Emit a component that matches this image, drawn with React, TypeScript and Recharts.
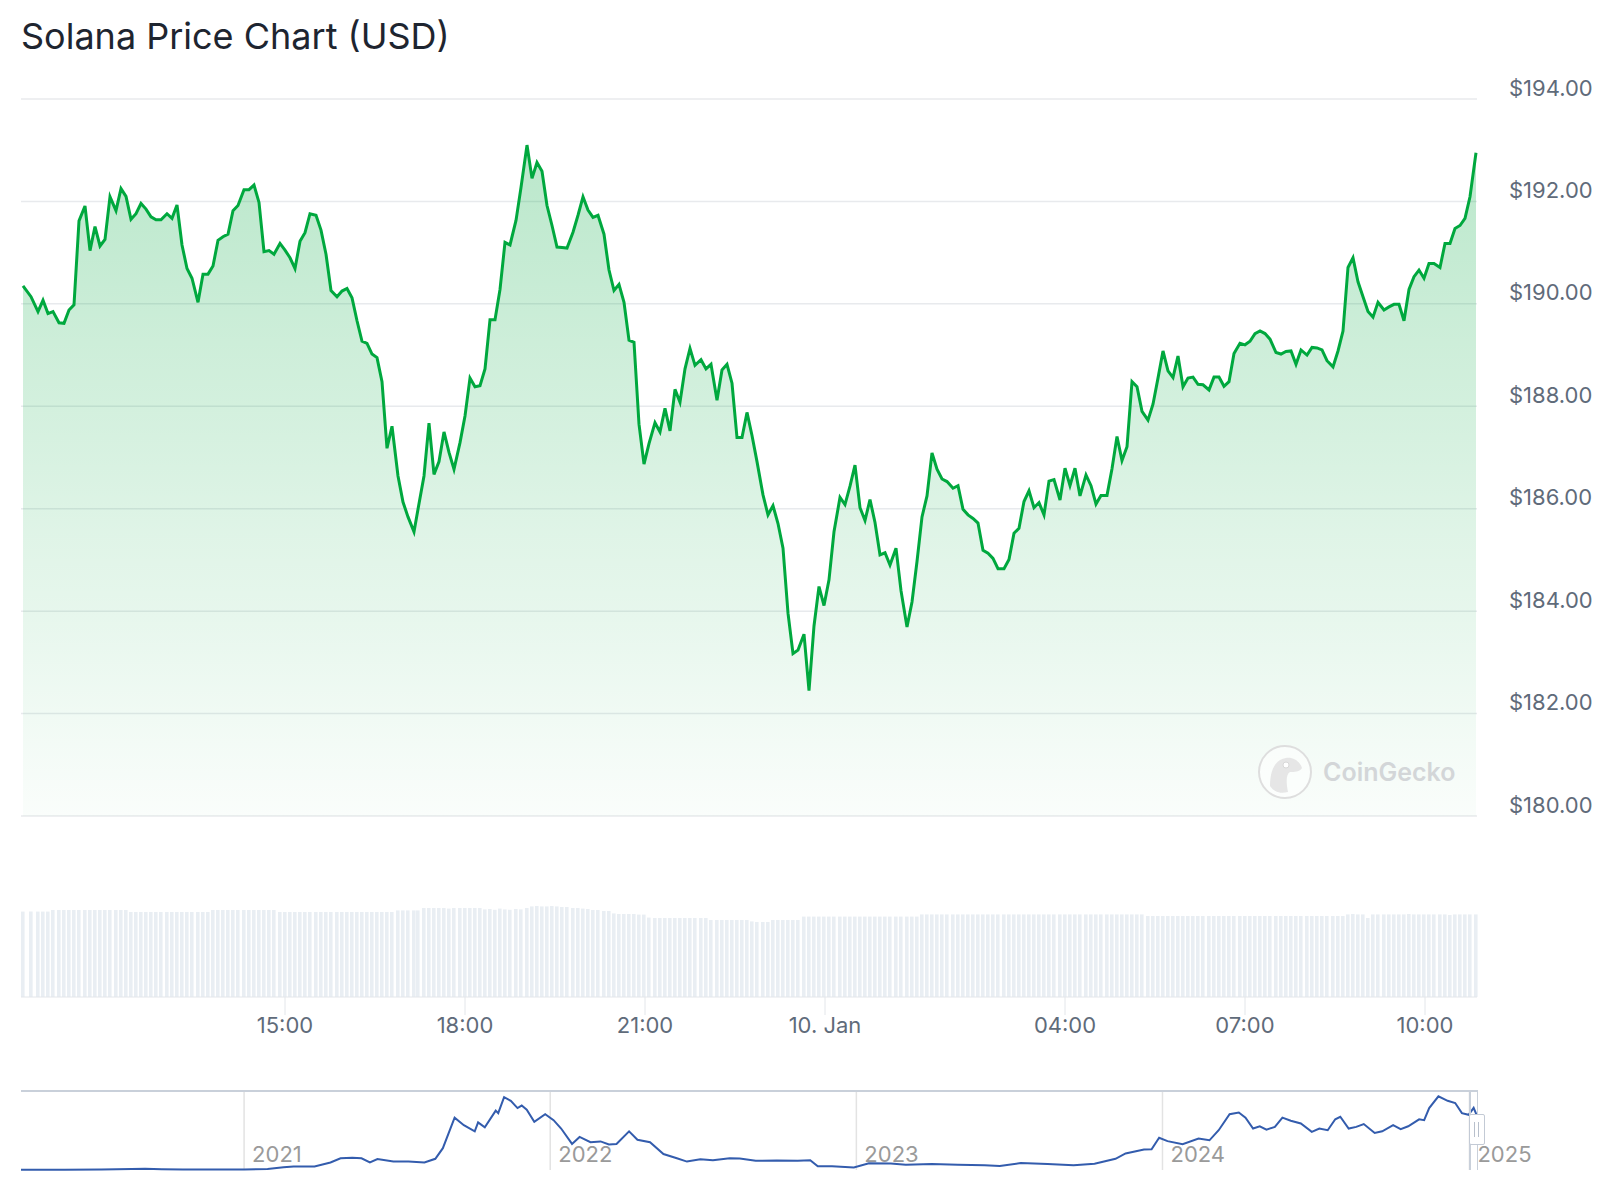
import React from "react";
import {
  AreaChart,
  Area,
  BarChart,
  Bar,
  LineChart,
  Line,
  XAxis,
  YAxis,
  CartesianGrid,
  ReferenceLine,
} from "recharts";

// 24h view: minutes after 00:00 on 9 Jan
const priceTimes = [
  638, 646, 653, 658, 663, 668, 674, 679, 684, 689,
  694, 700, 705, 710, 715, 720, 725, 731, 736, 741,
  746, 751, 756, 761, 766, 771, 776, 782, 787, 792,
  797, 802, 807, 813, 818, 823, 828, 833, 838, 843,
  848, 853, 859, 864, 869, 874, 879, 884, 889, 895,
  900, 905, 910, 915, 920, 925,
  931, 936, 941, 946, 952, 957, 962, 967, 972, 977,
  982, 987, 992, 997, 1002, 1007, 1013, 1018, 1023, 1029,
  1033, 1039, 1044, 1049, 1054, 1059, 1064, 1069, 1075, 1080,
  1085, 1090, 1095, 1100, 1105, 1110, 1115, 1120, 1125, 1131,
  1136, 1142, 1147, 1152, 1157, 1162, 1167, 1172, 1177, 1182,
  1188, 1193, 1198, 1203, 1208, 1213,
  1219, 1224, 1229, 1234, 1239, 1244, 1249, 1254, 1259, 1264,
  1270, 1275, 1280, 1285, 1290, 1295, 1300, 1305, 1310, 1316,
  1321, 1326, 1332, 1337, 1342, 1347, 1352, 1357, 1362, 1367,
  1372, 1378, 1383, 1388, 1393, 1398, 1403, 1408, 1413, 1419,
  1424, 1429, 1434, 1439, 1444, 1449, 1455, 1460, 1465, 1470,
  1475, 1480, 1485, 1490, 1495, 1500, 1505,
  1511, 1516, 1522, 1527, 1532, 1537, 1542, 1547, 1552, 1557,
  1562, 1568, 1573, 1578, 1583, 1588, 1593, 1598, 1603, 1608,
  1613, 1619, 1624, 1629, 1634, 1639, 1644, 1649, 1654, 1659,
  1664, 1669, 1675, 1680, 1685, 1690, 1695, 1701, 1706, 1711,
  1716, 1722, 1727, 1732, 1737, 1742, 1747, 1752, 1757, 1763,
  1768, 1773, 1778, 1783, 1788, 1793,
  1798, 1803, 1808, 1813, 1818, 1824, 1829, 1834, 1839, 1844,
  1849, 1855, 1860, 1865, 1870, 1875, 1880, 1885, 1891, 1896,
  1901, 1906, 1911, 1916, 1922, 1927, 1932, 1937, 1942, 1948,
  1953, 1958, 1963, 1968, 1973, 1978, 1983, 1988, 1993, 1999,
  2004, 2009, 2014, 2019, 2024, 2029, 2034, 2039, 2044, 2049,
  2055, 2060, 2065, 2070, 2075, 2080, 2085, 2091,
];

const prices = [
  190.35, 190.14, 189.85, 190.07, 189.81, 189.85, 189.63, 189.62, 189.88, 189.98,
  191.62, 191.91, 191.04, 191.51, 191.13, 191.26, 192.09, 191.82, 192.25, 192.1,
  191.65, 191.76, 191.96, 191.85, 191.7, 191.64, 191.64, 191.76, 191.67, 191.93,
  191.15, 190.69, 190.5, 190.03, 190.58, 190.58, 190.74, 191.24, 191.31, 191.36,
  191.82, 191.92, 192.23, 192.23, 192.32, 191.98, 191.02, 191.04, 190.97, 191.18,
  191.05, 190.9, 190.69, 191.22, 191.39, 191.76,
  191.73, 191.44, 190.97, 190.26, 190.14, 190.25, 190.3, 190.12, 189.67, 189.27,
  189.23, 189.02, 188.95, 188.48, 187.18, 187.61, 186.64, 186.13, 185.84, 185.55,
  185.99, 186.64, 187.67, 186.67, 186.92, 187.5, 187.1, 186.77, 187.29, 187.81,
  188.55, 188.38, 188.4, 188.73, 189.69, 189.69, 190.28, 191.2, 191.15, 191.63,
  192.27, 193.1, 192.45, 192.76, 192.59, 191.92, 191.53, 191.11, 191.1, 191.09,
  191.4, 191.73, 192.09, 191.83, 191.69, 191.73,
  191.36, 190.66, 190.26, 190.38, 190.03, 189.29, 189.25, 187.65, 186.87, 187.27,
  187.68, 187.5, 187.96, 187.52, 188.33, 188.08, 188.73, 189.13, 188.8, 188.91,
  188.73, 188.82, 188.12, 188.71, 188.82, 188.45, 187.39, 187.39, 187.88, 187.43,
  186.92, 186.27, 185.88, 186.06, 185.71, 185.23, 183.96, 183.17, 183.24, 183.55,
  182.45, 183.71, 184.48, 184.11, 184.61, 185.55, 186.22, 186.08, 186.44, 186.85,
  186.02, 185.77, 186.18, 185.73, 185.1, 185.14, 184.9,
  185.23, 184.4, 183.69, 184.18, 184.97, 185.84, 186.25, 187.09, 186.77, 186.58,
  186.53, 186.4, 186.45, 185.99, 185.88, 185.81, 185.72, 185.19, 185.13, 185.03,
  184.83, 184.83, 185.01, 185.52, 185.62, 186.14, 186.35, 186.02, 186.12, 185.88,
  186.54, 186.57, 186.17, 186.79, 186.45, 186.79, 186.25, 186.66, 186.45, 186.09,
  186.26, 186.26, 186.78, 187.41, 186.94, 187.21, 188.48, 188.38, 187.9, 187.73,
  188.04, 188.55, 189.08, 188.69, 188.56, 188.98,
  188.38, 188.55, 188.57, 188.43, 188.42, 188.32, 188.57, 188.57, 188.39, 188.48,
  189.03, 189.23, 189.2, 189.27, 189.42, 189.47, 189.42, 189.31, 189.05, 189.02,
  189.07, 189.08, 188.82, 189.1, 189.0, 189.15, 189.14, 189.1, 188.89, 188.77,
  189.08, 189.47, 190.71, 190.9, 190.43, 190.14, 189.85, 189.74, 190.03, 189.88,
  189.94, 189.99, 189.99, 189.67, 190.28, 190.53, 190.66, 190.5, 190.79, 190.79,
  190.71, 191.18, 191.18, 191.47, 191.53, 191.67, 192.09, 192.95,
];

// volume, $ billions
const volumes = [
  4.27, 4.27, 4.27, 4.27, 4.27, 4.35, 4.35, 4.35, 4.35, 4.35,
  4.35, 4.35, 4.35, 4.35, 4.35, 4.35, 4.35, 4.35, 4.35, 4.35,
  4.25, 4.25, 4.25, 4.25, 4.25, 4.25, 4.25, 4.25, 4.25, 4.25,
  4.25, 4.25, 4.25, 4.25, 4.25, 4.25, 4.35, 4.35, 4.35, 4.35,
  4.35, 4.35, 4.35, 4.35, 4.35, 4.35, 4.35, 4.35, 4.35, 4.25,
  4.25, 4.25, 4.25, 4.25, 4.25, 4.25,
  4.25, 4.25, 4.25, 4.25, 4.25, 4.25, 4.25, 4.25, 4.25, 4.25,
  4.25, 4.25, 4.25, 4.25, 4.25, 4.25, 4.33, 4.33, 4.33, 4.33,
  4.33, 4.45, 4.45, 4.45, 4.45, 4.45, 4.42, 4.45, 4.45, 4.45,
  4.45, 4.45, 4.45, 4.38, 4.4, 4.36, 4.42, 4.38, 4.36, 4.4,
  4.38, 4.45, 4.53, 4.55, 4.53, 4.53, 4.55, 4.53, 4.5, 4.5,
  4.45, 4.45, 4.42, 4.4, 4.35, 4.35,
  4.3, 4.3, 4.18, 4.15, 4.15, 4.15, 4.15, 4.12, 4.12, 3.97,
  3.95, 3.95, 3.95, 3.95, 3.95, 3.95, 3.95, 3.95, 3.95, 3.95,
  3.95, 3.85, 3.85, 3.85, 3.85, 3.85, 3.85, 3.85, 3.85, 3.78,
  3.75, 3.75, 3.75, 3.85, 3.85, 3.85, 3.85, 3.85, 3.85, 4.02,
  4.02, 4.02, 4.02, 4.02, 4.02, 4.02, 4.02, 4.02, 4.02, 4.02,
  4.02, 4.02, 4.02, 4.02, 4.02, 4.02, 4.02,
  4.02, 4.02, 4.02, 4.02, 4.02, 4.13, 4.13, 4.13, 4.13, 4.13,
  4.13, 4.13, 4.13, 4.13, 4.13, 4.13, 4.13, 4.13, 4.13, 4.13,
  4.13, 4.13, 4.13, 4.13, 4.13, 4.13, 4.13, 4.13, 4.13, 4.13,
  4.13, 4.13, 4.13, 4.13, 4.13, 4.13, 4.13, 4.13, 4.13, 4.13,
  4.13, 4.13, 4.13, 4.13, 4.13, 4.13, 4.13, 4.13, 4.13, 4.05,
  4.05, 4.05, 4.05, 4.05, 4.05, 4.05,
  4.05, 4.05, 4.05, 4.05, 4.05, 4.05, 4.05, 4.05, 4.05, 4.05,
  4.05, 4.05, 4.05, 4.05, 4.05, 4.05, 4.05, 4.05, 4.05, 4.05,
  4.05, 4.05, 4.05, 4.05, 4.05, 4.05, 4.05, 4.05, 4.05, 4.05,
  4.05, 4.05, 4.13, 4.15, 4.13, 4.13, 3.95, 4.13, 4.13, 4.13,
  4.13, 4.13, 4.13, 4.13, 4.15, 4.13, 4.13, 4.13, 4.13, 4.13,
  4.13, 4.13, 4.1, 4.13, 4.13, 4.13, 4.13, 4.13,
];

const timeTicks = [900, 1080, 1260, 1440, 1680, 1860, 2040];
const priceTicks = [180, 182, 184, 186, 188, 190, 192, 194];

// navigator: all-time history
const historyDates = [
  "2020-04-10", "2020-06-01", "2020-07-15", "2020-08-20", "2020-09-05",
  "2020-09-25", "2020-10-20", "2020-12-01", "2021-01-01", "2021-01-29",
  "2021-02-17", "2021-03-01", "2021-03-26", "2021-04-14", "2021-04-26",
  "2021-05-10", "2021-05-21", "2021-05-31", "2021-06-09", "2021-06-28",
  "2021-07-16", "2021-08-04", "2021-08-17", "2021-08-26", "2021-09-09",
  "2021-09-20", "2021-10-03", "2021-10-07", "2021-10-15", "2021-10-28",
  "2021-10-31", "2021-11-07", "2021-11-15", "2021-11-23", "2021-11-28",
  "2021-12-04", "2021-12-13", "2021-12-26", "2022-01-05", "2022-01-14",
  "2022-01-27", "2022-02-05", "2022-02-18", "2022-03-02", "2022-03-12",
  "2022-03-21", "2022-04-05", "2022-04-15", "2022-04-30", "2022-05-16",
  "2022-06-01", "2022-06-13", "2022-06-29", "2022-07-14", "2022-08-03",
  "2022-08-15", "2022-09-03", "2022-09-28", "2022-10-23", "2022-11-07",
  "2022-11-16", "2022-12-03", "2022-12-29", "2023-01-16", "2023-02-11",
  "2023-03-01", "2023-04-01", "2023-05-02", "2023-06-03", "2023-06-21",
  "2023-07-16", "2023-08-17", "2023-09-17", "2023-10-12", "2023-11-06",
  "2023-11-18", "2023-12-10", "2023-12-19", "2023-12-28", "2024-01-07",
  "2024-01-25", "2024-02-13", "2024-02-26", "2024-03-08", "2024-03-21",
  "2024-04-01", "2024-04-09", "2024-04-18", "2024-04-26", "2024-05-04",
  "2024-05-14", "2024-05-23", "2024-06-02", "2024-06-14", "2024-06-27",
  "2024-07-06", "2024-07-16", "2024-07-25", "2024-07-31", "2024-08-10",
  "2024-08-19", "2024-08-28", "2024-09-10", "2024-09-19", "2024-10-02",
  "2024-10-11", "2024-10-20", "2024-11-02", "2024-11-08", "2024-11-14",
  "2024-11-25", "2024-12-06", "2024-12-15", "2024-12-23", "2024-12-31",
  "2025-01-06", "2025-01-10",
];

const historyPrices = [
  0.95, 0.9, 1.8, 3.5, 4.3, 2.9, 2.2, 2.0, 1.8, 3.8,
  9.7, 12.5, 12.5, 27, 42, 44, 42, 27, 39, 30,
  30, 27, 40, 78, 187, 160, 138, 170, 152, 212,
  203, 260, 247, 221, 230, 215, 172, 199, 178, 148,
  93, 118, 99, 102, 91, 93, 138, 108, 99, 57,
  42, 30, 38, 35, 42, 41, 33, 34, 33, 35,
  13, 13, 9, 24, 23, 19, 21, 19, 17, 14,
  25, 21, 17, 22, 40, 59, 73, 74, 115, 103,
  92, 112, 106, 142, 199, 205, 187, 148, 156, 144,
  154, 187, 176, 166, 136, 148, 142, 181, 190, 148,
  154, 164, 132, 138, 160, 146, 156, 181, 178, 221,
  263, 247, 239, 203, 197, 222, 193,
];

const yearTicks = ["2021-01-01", "2022-01-01", "2023-01-01", "2024-01-01", "2025-01-01"];

const data = priceTimes.map((t, i) => ({ t, price: prices[i], volume: volumes[i] }));
const history = historyDates.map((d, i) => ({ ts: Date.parse(d), price: historyPrices[i] }));
const yearTickValues = yearTicks.map((d) => Date.parse(d));

const FONT = "Inter, 'Noto Sans', sans-serif";
const timeDomain = [636, 2092];

const formatTime = (m: number) =>
  m === 1440 ? "10. Jan" : `${String(Math.floor(m / 60) % 24).padStart(2, "0")}:00`;

const PriceTick = (props: any) => {
  const { x, y, payload } = props;
  return (
    <text x={x} y={y - 3.5} textAnchor="start" fill="#5f6b7a" fontSize={22} fontFamily={FONT}>
      {"$" + payload.value.toFixed(2)}
    </text>
  );
};

const YearTick = (props: any) => {
  const { x, y, payload } = props;
  return (
    <text x={x + 8} y={y - 8} textAnchor="start" fill="#9a9a9a" fontSize={22} fontFamily={FONT}>
      {new Date(payload.value).getUTCFullYear()}
    </text>
  );
};

const Watermark = () => (
  <svg width={210} height={60} style={{ position: "absolute", left: 1256, top: 742 }}>
    <circle cx={29} cy={30} r={26} fill="rgba(255,255,255,0.55)" stroke="#dedede" strokeWidth={2} />
    <path
      d="M14 44 C14 30 18 18 30 16 C38 15 44 20 46 26 C44 30 38 30 34 30 C30 32 30 40 32 50 C24 52 18 50 14 44 Z"
      fill="#e6e6e6"
    />
    <circle cx={30} cy={23} r={3} fill="#ffffff" stroke="#d8d8d8" strokeWidth={1} />
    <text x={67} y={39} fill="#d3d6d8" fontSize={25} fontWeight={600} fontFamily={FONT}>
      CoinGecko
    </text>
  </svg>
);

export default function App() {
  return (
    <div
      style={{
        position: "absolute",
        left: 0,
        top: 0,
        width: 1618,
        height: 1200,
        background: "#ffffff",
        fontFamily: FONT,
        overflow: "hidden",
      }}
    >
      <div
        style={{
          position: "absolute",
          left: 21,
          top: 15,
          fontSize: 36,
          lineHeight: "42px",
          color: "#1e2530",
          whiteSpace: "nowrap",
        }}
      >
        Solana Price Chart (USD)
      </div>

      <div style={{ position: "absolute", left: 0, top: 0 }}>
        <AreaChart width={1618} height={830} data={data} margin={{ top: 99, right: 0, bottom: 14, left: 21 }}>
          <defs>
            <linearGradient id="solFill" x1="0" y1="0" x2="0" y2="1">
              <stop offset="0%" stopColor="#00a83e" stopOpacity={0.27} />
              <stop offset="100%" stopColor="#00a83e" stopOpacity={0.02} />
            </linearGradient>
          </defs>
          <CartesianGrid vertical={false} stroke="#e8eaed" strokeWidth={1.5} />
          <XAxis dataKey="t" type="number" domain={timeDomain} hide />
          <YAxis
            orientation="right"
            width={141}
            domain={[180, 194]}
            ticks={priceTicks}
            axisLine={false}
            tickLine={false}
            tickSize={0}
            tickMargin={32}
            tick={<PriceTick />}
          />
          <Area
            type="linear"
            dataKey="price"
            stroke="#00a83e"
            strokeWidth={3}
            fill="url(#solFill)"
            fillOpacity={1}
            dot={false}
            activeDot={false}
            isAnimationActive={false}
          />
        </AreaChart>
      </div>

      <Watermark />

      <div style={{ position: "absolute", left: 0, top: 897 }}>
        <BarChart width={1618} height={150} data={data} margin={{ top: 0, right: 141, bottom: 0, left: 21 }}>
          <XAxis
            dataKey="t"
            type="number"
            domain={timeDomain}
            ticks={timeTicks}
            interval={0}
            height={50}
            tickSize={18}
            tickLine={{ stroke: "#e3e6ea" }}
            axisLine={{ stroke: "#e3e6ea" }}
            tick={{ fill: "#5f6b7a", fontSize: 22, fontFamily: FONT }}
            tickFormatter={formatTime}
          />
          <YAxis hide domain={[0, 5]} />
          <Bar dataKey="volume" fill="#e9eef3" barSize={4} isAnimationActive={false} />
        </BarChart>
      </div>

      <div style={{ position: "absolute", left: 0, top: 1081 }}>
        <LineChart width={1618} height={100} data={history} margin={{ top: 10, right: 141, bottom: 0, left: 21 }}>
          <XAxis
            dataKey="ts"
            type="number"
            domain={[Date.parse("2020-04-10"), Date.parse("2025-01-10")]}
            ticks={yearTickValues}
            interval={0}
            height={11}
            tickSize={0}
            tickMargin={0}
            axisLine={false}
            tickLine={false}
            tick={<YearTick />}
          />
          <YAxis hide domain={[0, 282]} />
          {yearTickValues.map((ts) => (
            <ReferenceLine key={ts} x={ts} stroke="#e3e3e3" strokeWidth={1.5} />
          ))}
          <Line
            type="linear"
            dataKey="price"
            stroke="#335cad"
            strokeWidth={2}
            dot={false}
            activeDot={false}
            isAnimationActive={false}
          />
        </LineChart>
      </div>

      {/* navigator outline and handle */}
      <div style={{ position: "absolute", left: 21, top: 1090, width: 1457, height: 2, background: "#c9d0da" }} />
      <div style={{ position: "absolute", left: 1469, top: 1091, width: 1.5, height: 79, background: "#c9d0da" }} />
      <div style={{ position: "absolute", left: 1476.5, top: 1091, width: 1.5, height: 79, background: "#c9d0da" }} />
      <div
        style={{
          position: "absolute",
          left: 1469,
          top: 1114,
          width: 14,
          height: 29,
          background: "#ffffff",
          border: "1px solid #c3cad5",
          borderRadius: 2,
        }}
      >
        <div style={{ position: "absolute", left: 4, top: 7, width: 1, height: 15, background: "#b8c0cc" }} />
        <div style={{ position: "absolute", left: 8, top: 7, width: 1, height: 15, background: "#b8c0cc" }} />
      </div>
    </div>
  );
}
